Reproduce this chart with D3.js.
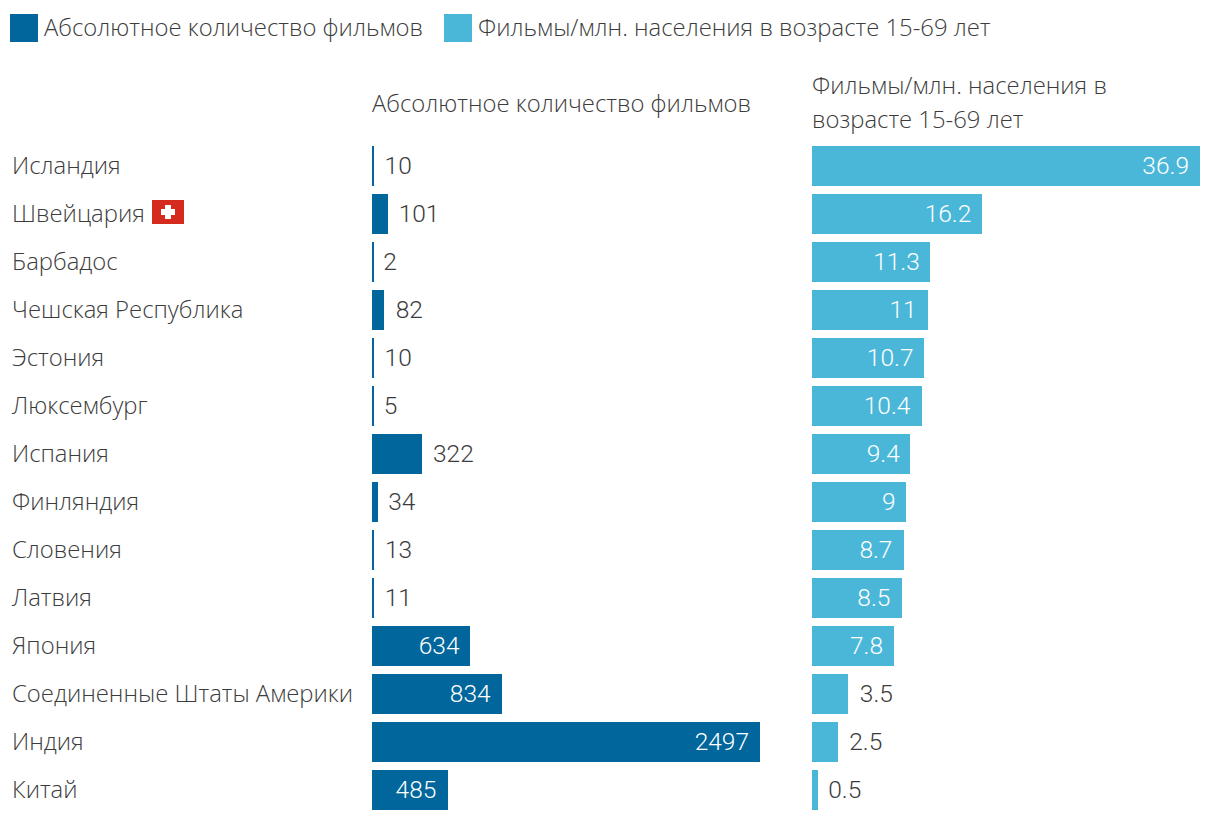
<!DOCTYPE html>
<html>
<head>
<meta charset="utf-8">
<script src="https://cdnjs.cloudflare.com/ajax/libs/d3/7.8.5/d3.min.js"></script>
<style>
	html, body { margin: 0; padding: 0; background: #fff; }
	svg { display: block; }
	text { font-family: "Open Sans", sans-serif; font-weight: 300; font-size: 23.85px; fill: #3c3c3c; }
	.num { font-family: Roboto, sans-serif; font-weight: 300; font-size: 24.5px; }
	.num.inside { fill: #fff; }
	rect { shape-rendering: crispEdges; }
</style>
</head>
<body>
<svg id="chart"></svg>
<script>
const countries = ['Исландия', 'Швейцария', 'Барбадос', 'Чешская Республика', 'Эстония', 'Люксембург', 'Испания',
	'Финляндия', 'Словения', 'Латвия', 'Япония', 'Соединенные Штаты Америки', 'Индия', 'Китай'];
const filmCounts = [10, 101, 2, 82, 10, 5, 322, 34, 13, 11, 634, 834, 2497, 485];
const filmsPerMillion = [36.9, 16.2, 11.3, 11, 10.7, 10.4, 9.4, 9, 8.7, 8.5, 7.8, 3.5, 2.5, 0.5];
const legendLabels = ['Абсолютное количество фильмов', 'Фильмы/млн. населения в возрасте 15-69 лет'];
const rightTitle = ['Фильмы/млн. населения в', 'возрасте 15-69 лет'];

const width = 1220, height = 822;
const darkBlue = '#00669b', lightBlue = '#4ab7d9';

const canvas = d3.select('#chart').attr('width', width).attr('height', height);

const yScale = d3.scaleBand()
	.domain(countries)
	.range([142, 814])
	.paddingInner(1 / 6)
	.paddingOuter(1 / 12);

const xCount = d3.scaleLinear().domain([0, 2497]).range([372, 760]);
const xRate = d3.scaleLinear().domain([0, 36.9]).range([812, 1200]);

// legend
const legendX = [10, 444];
legendLabels.forEach((label, i) => {
	canvas.append('rect')
		.attr('x', legendX[i]).attr('y', 14)
		.attr('width', 28).attr('height', 28)
		.attr('fill', i === 0 ? darkBlue : lightBlue);
	canvas.append('text')
		.attr('x', legendX[i] + 34).attr('y', 36)
		.text(label);
});

// column titles
canvas.append('text').attr('x', 372).attr('y', 112).text(legendLabels[0]);
rightTitle.forEach((line, i) => {
	canvas.append('text').attr('x', 812).attr('y', 94 + i * 34).text(line);
});

// country names
const names = canvas.selectAll('.country')
	.data(countries)
	.enter()
	.append('text')
	.attr('class', 'country')
	.attr('x', 12)
	.attr('y', d => yScale(d) + yScale.bandwidth() / 2 + 8)
	.text(d => d);

// swiss flag sits right after the name
const swissName = names.filter(d => d === 'Швейцария');
const flagX = Math.round(12 + swissName.node().getComputedTextLength() + 7);
const flagY = yScale('Швейцария') + 6;
const flag = canvas.append('g').attr('transform', `translate(${flagX},${flagY})`);
flag.append('rect').attr('width', 32).attr('height', 24).attr('fill', '#d52b1e');
flag.append('rect').attr('x', 13).attr('y', 5).attr('width', 6).attr('height', 14).attr('fill', '#fff');
flag.append('rect').attr('x', 9).attr('y', 9).attr('width', 14).attr('height', 6).attr('fill', '#fff');

const drawBars = (values, xScale, colour, insideMin) => {
	const rows = countries.map((c, i) => ({ country: c, value: values[i] }));

	// reference bars snap to even pixels, never thinner than 2
	canvas.selectAll(null)
		.data(rows)
		.enter()
		.append('rect')
		.attr('x', xScale(0))
		.attr('y', d => yScale(d.country))
		.attr('width', d => Math.max(2, Math.round((xScale(d.value) - xScale(0)) / 2) * 2))
		.attr('height', yScale.bandwidth())
		.attr('fill', colour);

	// short bars get the number outside, in the dark text colour
	canvas.selectAll(null)
		.data(rows)
		.enter()
		.append('text')
		.attr('class', d => d.value >= insideMin ? 'num inside' : 'num')
		.attr('x', d => d.value >= insideMin ? xScale(d.value) - 11 : xScale(d.value) + 11)
		.attr('y', d => yScale(d.country) + yScale.bandwidth() / 2 + 8)
		.attr('text-anchor', d => d.value >= insideMin ? 'end' : 'start')
		.text(d => d.value);
};

drawBars(filmCounts, xCount, darkBlue, 400);
drawBars(filmsPerMillion, xRate, lightBlue, 5);
</script>
</body>
</html>
